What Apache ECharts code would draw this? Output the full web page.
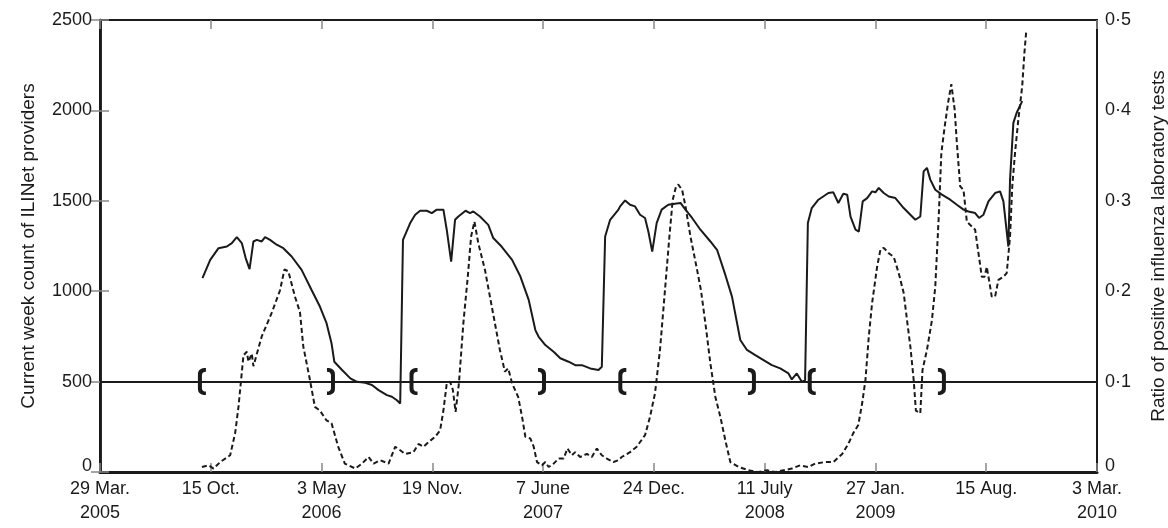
<!DOCTYPE html>
<html>
<head>
<meta charset="utf-8">
<script src="https://cdn.jsdelivr.net/npm/echarts@6/dist/echarts.min.js"></script>
<style>
  html, body { margin: 0; padding: 0; background: #fff; }
  #chart { width: 1168px; height: 528px; }
</style>
</head>
<body>
<div id="chart"></div>
<script>
// x values are days counted from 29 Mar. 2005
const xTickLabels = ['29 Mar.\n2005', '15 Oct.', '3 May\n2006', '19 Nov.', '7 June\n2007',
  '24 Dec.', '11 July\n2008', '27 Jan.\n2009', '15 Aug.', '3 Mar.\n2010'];

// current week count of ILINet providers (left axis)
const providerCounts = [
  [185, 1072], [199, 1173], [214, 1238], [229, 1247], [238, 1266], [247, 1299], [256, 1266],
  [263, 1183], [270, 1122], [277, 1275], [283, 1284], [292, 1275], [298, 1299], [307, 1284],
  [319, 1257], [331, 1238], [346, 1192], [364, 1118], [382, 1007], [397, 915], [409, 823],
  [418, 712], [423, 610], [437, 564], [452, 518], [464, 499], [479, 493], [491, 481],
  [503, 453], [518, 425], [527, 416], [536, 397], [542, 379], [547, 1284], [560, 1377],
  [569, 1423], [578, 1445], [590, 1445], [599, 1432], [608, 1451], [620, 1451], [626, 1340],
  [634, 1164], [641, 1395], [647, 1413], [660, 1445], [668, 1432], [674, 1441], [686, 1413],
  [701, 1367], [710, 1294], [725, 1247], [744, 1173], [759, 1081], [774, 952], [786, 785],
  [792, 748], [804, 702], [819, 665], [831, 629], [846, 610], [858, 591], [870, 591],
  [885, 573], [900, 564], [906, 582], [912, 1303], [921, 1395], [936, 1451], [939, 1469],
  [948, 1502], [957, 1478], [966, 1469], [975, 1423], [984, 1405], [990, 1330], [997, 1219],
  [1005, 1377], [1014, 1451], [1026, 1478], [1038, 1484], [1048, 1488], [1057, 1451],
  [1069, 1405], [1084, 1340], [1102, 1275], [1114, 1229], [1129, 1090], [1141, 970],
  [1156, 730], [1168, 675], [1183, 647], [1198, 619], [1213, 591], [1228, 573], [1243, 545],
  [1249, 512], [1258, 545], [1267, 499], [1273, 508], [1278, 1377], [1285, 1460], [1297, 1506],
  [1315, 1543], [1324, 1547], [1333, 1488], [1342, 1539], [1349, 1534], [1355, 1413],
  [1364, 1340], [1370, 1330], [1377, 1497], [1385, 1515], [1394, 1552], [1400, 1547],
  [1406, 1571], [1415, 1543], [1424, 1524], [1436, 1515], [1451, 1460], [1463, 1423],
  [1472, 1395], [1481, 1413], [1487, 1663], [1493, 1682], [1499, 1617], [1508, 1561],
  [1520, 1534], [1535, 1506], [1547, 1478], [1559, 1451], [1568, 1441], [1580, 1432],
  [1587, 1405], [1595, 1423], [1604, 1497], [1616, 1543], [1625, 1552], [1631, 1497],
  [1640, 1247], [1643, 1617], [1649, 1931], [1655, 1987], [1665, 2051]
];

// ratio of positive influenza laboratory tests (right axis)
const positiveRatio = [
  [184, 0.0055], [196, 0.0074], [205, 0.0038], [217, 0.011], [235, 0.0185], [244, 0.043],
  [250, 0.072], [259, 0.129], [265, 0.133], [268, 0.122], [274, 0.131], [277, 0.117],
  [292, 0.150], [310, 0.176], [325, 0.201], [333, 0.224], [340, 0.222], [352, 0.194],
  [361, 0.177], [367, 0.139], [379, 0.102], [388, 0.072], [397, 0.068], [409, 0.057],
  [418, 0.054], [430, 0.028], [442, 0.0093], [461, 0.0038], [473, 0.0093], [485, 0.0166],
  [494, 0.0093], [506, 0.013], [521, 0.0093], [533, 0.028], [542, 0.024], [551, 0.020],
  [566, 0.022], [575, 0.031], [584, 0.028], [593, 0.033], [605, 0.039], [614, 0.046],
  [620, 0.068], [626, 0.098], [632, 0.100], [637, 0.091], [642, 0.0665], [648, 0.098],
  [656, 0.1645], [664, 0.216], [670, 0.2605], [676, 0.277], [683, 0.253], [695, 0.2236],
  [704, 0.194], [713, 0.1645], [722, 0.135], [731, 0.111], [737, 0.1146], [744, 0.098],
  [755, 0.083], [762, 0.061], [768, 0.039], [777, 0.037], [783, 0.028], [789, 0.011],
  [798, 0.0074], [804, 0.011], [810, 0.0055], [819, 0.0093], [828, 0.0149], [837, 0.0149],
  [844, 0.026], [852, 0.0185], [858, 0.022], [867, 0.0166], [879, 0.020], [888, 0.0166],
  [897, 0.026], [906, 0.0185], [915, 0.0149], [927, 0.011], [936, 0.013], [942, 0.0166],
  [957, 0.022], [969, 0.028], [984, 0.0407], [993, 0.061], [1002, 0.087], [1011, 0.135],
  [1020, 0.201], [1028, 0.2605], [1034, 0.301], [1040, 0.316], [1044, 0.318], [1051, 0.312],
  [1057, 0.294], [1066, 0.2605], [1078, 0.2236], [1085, 0.201], [1093, 0.1645], [1102, 0.120],
  [1111, 0.083], [1120, 0.061], [1129, 0.035], [1138, 0.011], [1153, 0.0055], [1171, 0.0019],
  [1189, 0], [1204, 0.0019], [1219, 0], [1234, 0.0019], [1249, 0.0038], [1264, 0.0074],
  [1279, 0.0055], [1291, 0.0093], [1309, 0.011], [1324, 0.011], [1340, 0.020], [1351, 0.031],
  [1360, 0.043], [1369, 0.052], [1376, 0.076], [1382, 0.102], [1388, 0.150], [1394, 0.187],
  [1403, 0.227], [1409, 0.246], [1415, 0.248], [1424, 0.242], [1433, 0.238], [1442, 0.220],
  [1451, 0.198], [1457, 0.168], [1463, 0.139], [1469, 0.102], [1473, 0.068], [1481, 0.065],
  [1485, 0.113], [1493, 0.135], [1502, 0.168], [1508, 0.205], [1514, 0.279], [1519, 0.353],
  [1525, 0.382], [1531, 0.408], [1537, 0.429], [1543, 0.401], [1547, 0.364], [1553, 0.316],
  [1559, 0.312], [1565, 0.277], [1574, 0.2716], [1580, 0.268], [1586, 0.242], [1592, 0.216],
  [1597, 0.216], [1601, 0.227], [1606, 0.209], [1610, 0.194], [1616, 0.194], [1622, 0.2125],
  [1631, 0.216], [1637, 0.220], [1643, 0.2605], [1647, 0.316], [1652, 0.353], [1658, 0.390],
  [1665, 0.427], [1669, 0.464], [1672, 0.486]
];

// influenza season markers drawn on the reference line
const thresholdCount = 500;
const seasonStartDays = [184, 566, 943, 1285];
const seasonEndDays = [417, 798, 1177, 1520];

const ink = '#1a1a1a';
const font = 'Liberation Sans';
const openBracket = 'path://M10,0 C4,0 0,2 0,7 L0,23 C0,28 4,30 10,30 L10,26 C7,26 5,25 5,22 L5,8 C5,5 7,4 10,4 Z';
const closeBracket = 'path://M0,0 C6,0 10,2 10,7 L10,23 C10,28 6,30 0,30 L0,26 C3,26 5,25 5,22 L5,8 C5,5 3,4 0,4 Z';

var chartDom = document.getElementById('chart');
var myChart = echarts.init(chartDom);

const zeroRich = { z: { fontSize: 18, fontFamily: font, color: ink, padding: [0, 0, 12, 0] } };

var option = {
  animation: false,
  backgroundColor: '#fff',
  grid: {
    left: 100, right: 71, top: 20, bottom: 56,
    outerBoundsMode: 'none',
    containLabel: false,
    show: true, borderColor: ink, borderWidth: 2
  },
  xAxis: [
    {
      type: 'value', position: 'bottom', min: 0, max: 1800, interval: 200,
      splitLine: { show: false },
      axisLine: { show: true, onZero: false, lineStyle: { color: ink, width: 3 } },
      axisTick: { show: true, inside: true, length: 9, lineStyle: { color: '#888', width: 1.5 } },
      axisLabel: {
        show: true, margin: 5, fontSize: 18, lineHeight: 24, fontFamily: font, color: ink,
        showMinLabel: true, showMaxLabel: true,
        formatter: function (v) { return xTickLabels[Math.round(v / 200)] || ''; }
      }
    },
    {
      type: 'value', position: 'top', min: 0, max: 1800, interval: 200,
      splitLine: { show: false },
      axisLine: { show: true, onZero: false, lineStyle: { color: ink, width: 2 } },
      axisTick: { show: true, inside: true, length: 9, lineStyle: { color: '#888', width: 1.5 } },
      axisLabel: { show: false }
    }
  ],
  yAxis: [
    {
      type: 'value', position: 'left', min: 0, max: 2500, interval: 500,
      name: 'Current week count of ILINet providers',
      nameLocation: 'middle', nameGap: 62, nameRotate: 90,
      nameTextStyle: { fontSize: 19, fontFamily: font, color: ink },
      splitLine: { show: false },
      axisLine: { show: true, lineStyle: { color: ink, width: 2.5 } },
      axisTick: { show: true, inside: true, length: 9, lineStyle: { color: '#888', width: 1.5 } },
      axisLabel: {
        margin: 8, fontSize: 18, fontFamily: font, color: ink, rich: zeroRich,
        formatter: function (v) { return v === 0 ? '{z|0}' : String(v); }
      }
    },
    {
      type: 'value', position: 'right', min: 0, max: 0.5, interval: 0.1,
      name: 'Ratio of positive influenza laboratory tests',
      nameLocation: 'middle', nameGap: 52, nameRotate: 90,
      nameTextStyle: { fontSize: 19, fontFamily: font, color: ink },
      splitLine: { show: false },
      axisLine: { show: true, lineStyle: { color: ink, width: 2.5 } },
      axisTick: { show: true, inside: true, length: 9, lineStyle: { color: '#888', width: 1.5 } },
      axisLabel: {
        margin: 8, fontSize: 18, fontFamily: font, color: ink, rich: zeroRich,
        formatter: function (v) {
          return v === 0 ? '{z|0}' : v.toFixed(1).replace('.', '\u00b7');
        }
      }
    }
  ],
  series: [
    {
      name: 'ILINet providers',
      type: 'line',
      xAxisIndex: 0,
      yAxisIndex: 0,
      showSymbol: false,
      data: providerCounts,
      lineStyle: { color: ink, width: 2 },
      markLine: {
        silent: true,
        symbol: 'none',
        label: { show: false },
        lineStyle: { color: ink, width: 2, type: 'solid' },
        data: [{ yAxis: thresholdCount }]
      },
      z: 3
    },
    {
      name: 'Positive ratio',
      type: 'line',
      xAxisIndex: 0,
      yAxisIndex: 1,
      showSymbol: false,
      data: positiveRatio,
      lineStyle: { color: ink, width: 2, type: [5, 3] },
      z: 3
    },
    {
      name: 'Season start',
      type: 'scatter',
      xAxisIndex: 0,
      yAxisIndex: 0,
      symbol: openBracket,
      symbolSize: [8, 27],
      itemStyle: { color: ink, opacity: 1 },
      data: seasonStartDays.map(function (d) { return [d, thresholdCount]; }),
      z: 4
    },
    {
      name: 'Season end',
      type: 'scatter',
      xAxisIndex: 0,
      yAxisIndex: 0,
      symbol: closeBracket,
      symbolSize: [8, 27],
      itemStyle: { color: ink, opacity: 1 },
      data: seasonEndDays.map(function (d) { return [d, thresholdCount]; }),
      z: 4
    }
  ]
};

option && myChart.setOption(option);
</script>
</body>
</html>
